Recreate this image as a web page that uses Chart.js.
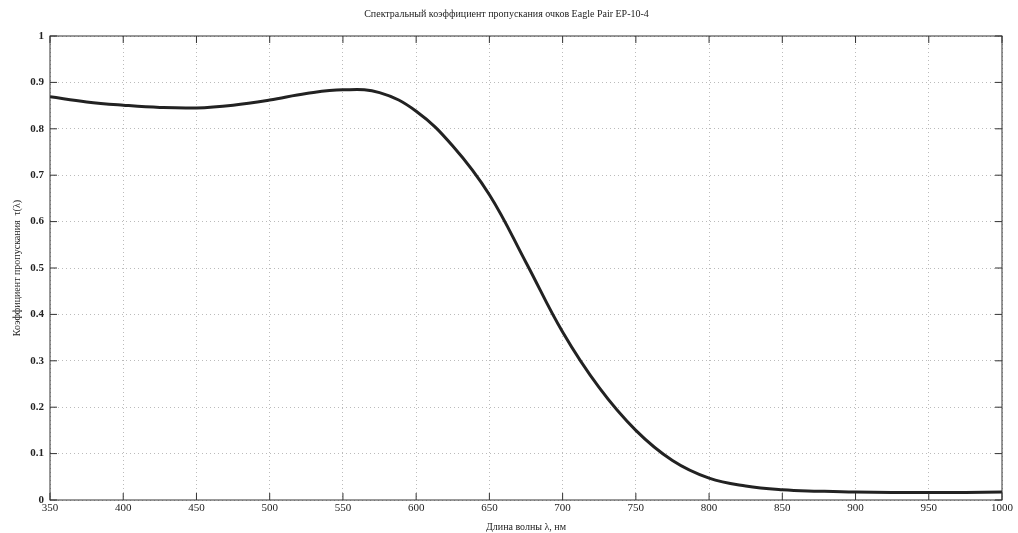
<!DOCTYPE html>
<html>
<head>
<meta charset="utf-8">
<script src="https://cdn.jsdelivr.net/npm/chart.js@4"></script>
<style>
  html, body { margin: 0; padding: 0; background: #fff; }
  #wrap { width: 1018px; height: 533px; }
</style>
</head>
<body>
<div id="wrap"><canvas id="tauChart" width="1018" height="533"></canvas></div>
<script>
// wavelength, nm
const wavelengths = [350, 375, 400, 425, 450, 475, 500, 525, 550, 575, 600, 625, 650, 675, 700, 725, 750, 775, 800, 825, 850, 875, 900, 950, 1000];
// transmission coefficient tau(lambda)
const transmission = [0.869, 0.858, 0.851, 0.846, 0.845, 0.851, 0.862, 0.876, 0.884, 0.878, 0.838, 0.763, 0.658, 0.512, 0.362, 0.242, 0.150, 0.085, 0.047, 0.030, 0.022, 0.019, 0.017, 0.016, 0.017];
const xTicks = [350, 400, 450, 500, 550, 600, 650, 700, 750, 800, 850, 900, 950, 1000];
const yTicks = [0, 0.1, 0.2, 0.3, 0.4, 0.5, 0.6, 0.7, 0.8, 0.9, 1];

const serif = '"Liberation Serif", "DejaVu Serif", serif';

// MATLAB-like box with inward ticks
const boxPlugin = {
    id: 'box',
    afterDraw(chart) {
        const { ctx, chartArea: a, scales } = chart;
        ctx.save();
        ctx.strokeStyle = '#333';
        ctx.lineWidth = 1;
        ctx.strokeRect(a.left, a.top, a.right - a.left, a.bottom - a.top);
        ctx.beginPath();
        xTicks.forEach(v => {
            const px = scales.x.getPixelForValue(v);
            ctx.moveTo(px, a.bottom); ctx.lineTo(px, a.bottom - 7);
            ctx.moveTo(px, a.top); ctx.lineTo(px, a.top + 7);
        });
        yTicks.forEach(v => {
            const py = scales.y.getPixelForValue(v);
            ctx.moveTo(a.left, py); ctx.lineTo(a.left + 7, py);
            ctx.moveTo(a.right, py); ctx.lineTo(a.right - 7, py);
        });
        ctx.stroke();
        ctx.restore();
    }
};

new Chart(document.getElementById('tauChart').getContext('2d'), {
    type: 'line',
    data: {
        datasets: [{
            data: wavelengths.map((w, i) => ({ x: w, y: transmission[i] })),
            borderColor: '#222',
            borderWidth: 3,
            pointRadius: 0,
            tension: 0.4,
            fill: false
        }]
    },
    options: {
        responsive: false,
        animation: false,
        layout: { padding: { left: 11, right: 16, top: 0, bottom: 0 } },
        plugins: {
            legend: { display: false },
            tooltip: { enabled: false },
            title: {
                display: true,
                text: 'Спектральный коэффициент пропускания очков Eagle Pair EP-10-4',
                color: '#222',
                font: { family: serif, size: 10, weight: 'normal' },
                padding: { top: 8, bottom: 16 }
            }
        },
        scales: {
            x: {
                type: 'linear',
                min: 350,
                max: 1000,
                afterBuildTicks: s => { s.ticks = xTicks.map(v => ({ value: v })); },
                ticks: { color: '#222', font: { family: serif, size: 11 }, padding: 2, maxRotation: 0, callback: v => String(v) },
                grid: { color: '#bbb', drawTicks: false },
                border: { display: false, dash: [1, 3] },
                title: {
                    display: true,
                    text: 'Длина волны λ, нм',
                    color: '#222',
                    font: { family: serif, size: 10 },
                    padding: { top: 0, bottom: 0 }
                },
                afterFit: s => { s.height = 33; }
            },
            y: {
                min: 0,
                max: 1,
                afterBuildTicks: s => { s.ticks = yTicks.map(v => ({ value: v })); },
                ticks: { color: '#222', font: { family: serif, size: 11, weight: 'bold' }, padding: 6, callback: v => String(v) },
                grid: { color: '#bbb', drawTicks: false },
                border: { display: false, dash: [1, 3] },
                title: {
                    display: true,
                    text: 'Коэффициент пропускания  τ(λ)',
                    color: '#222',
                    font: { family: serif, size: 10 },
                    padding: { top: 0, bottom: 2 }
                },
                afterFit: s => { s.width = 39; }
            }
        }
    },
    plugins: [boxPlugin]
});
</script>
</body>
</html>
